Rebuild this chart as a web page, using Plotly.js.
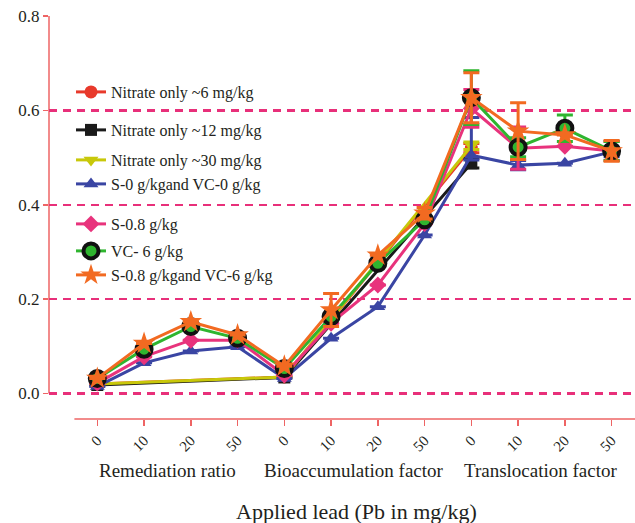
<!DOCTYPE html>
<html>
<head>
<meta charset="utf-8">
<script src="https://cdn.plot.ly/plotly-3.0.1.min.js"></script>
<style>html,body{margin:0;padding:0;background:#fff;}</style>
</head>
<body>
<div id="chart" style="width:635px;height:523px;"></div>
<script>
// Tick labels (applied Pb, mg/kg) for the three indicator groups
const tickLabels = ['0','10','20','50','0','10','20','50','0','10','20','50'];
const groupLabels = ['Remediation ratio','Bioaccumulation factor','Translocation factor'];
const groupCenters = [1.5, 5.5, 9.5];
const xAll = [0,1,2,3,4,5,6,7,8,9,10,11];
const xNitrate = [0,4,8];

// Series values
const nitrate6  = [0.020, 0.035, 0.520];
const nitrate6Err = [0, 0, 0.010];
const nitrate12 = [0.018, 0.034, 0.488];
const nitrate12Err = [0, 0, 0.010];
const nitrate30 = [0.020, 0.035, 0.525];
const nitrate30Err = [0, 0, 0.008];
const s0vc0  = [0.015, 0.065, 0.090, 0.099, 0.032, 0.117, 0.184, 0.336, 0.505, 0.484, 0.488, 0.512];
const s0vc0Err = [0,0,0,0,0,0,0,0,0.080,0.010,0,0.010];
const s0vc0ErrMinus = [0,0,0,0,0,0,0,0,0.010,0.010,0,0.010];
const s08    = [0.022, 0.078, 0.113, 0.113, 0.039, 0.149, 0.230, 0.360, 0.604, 0.520, 0.524, 0.514];
const s08Err = [0,0,0,0,0,0,0,0,0.040,0.045,0,0.020];
const vc6    = [0.032, 0.094, 0.142, 0.117, 0.053, 0.163, 0.276, 0.368, 0.627, 0.522, 0.562, 0.514];
const vc6Err = [0,0,0,0,0,0,0,0,0.057,0.020,0.028,0.020];
const s08vc6 = [0.032, 0.106, 0.152, 0.124, 0.058, 0.177, 0.293, 0.382, 0.627, 0.556, 0.548, 0.514];
const s08vc6Err = [0,0,0,0,0,0.035,0,0.012,0.053,0.060,0,0.022];

const names = ['Nitrate only ~6 mg/kg','Nitrate only ~12 mg/kg','Nitrate only ~30 mg/kg',
  'S-0 g/kgand VC-0 g/kg','S-0.8 g/kg','VC- 6 g/kg','S-0.8 g/kgand VC-6 g/kg'];
const legendY = [92, 130, 160, 184, 224, 251, 275]; // pixel centers of legend rows

const FONT = '"Liberation Serif", "Times New Roman", Times, serif';
const TXT = '#231f20';
const AXC = '#ee6464';
const GRID = '#e8307a';

function tr(x, y, err, errMinus, name, color, symbol, size, mline, idx, mcolor) {
  return {
    x: x, y: y, name: name, type: 'scatter', mode: 'lines+markers',
    line: {color: color, width: 3},
    marker: {symbol: symbol, size: size, color: mcolor || color,
             line: mline || {width: 0}},
    error_y: {type: 'data', array: err, arrayminus: errMinus || err, symmetric: !errMinus,
              visible: true, color: color, thickness: 3, width: 8},
    legend: idx === 0 ? 'legend' : 'legend' + (idx + 1),
    cliponaxis: false
  };
}

const traces = [
  tr(xNitrate, nitrate6, nitrate6Err, null, names[0], '#e8392b', 'circle', 13, null, 0),
  tr(xNitrate, nitrate12, nitrate12Err, null, names[1], '#1a1a1a', 'square', 12, null, 1),
  tr(xNitrate, nitrate30, nitrate30Err, null, names[2], '#c8c80a', 'triangle-down', 13, null, 2),
  tr(xAll, s0vc0, s0vc0Err, s0vc0ErrMinus, names[3], '#3a45a3', 'triangle-up', 13, null, 3),
  tr(xAll, s08, s08Err, null, names[4], '#e8337c', 'diamond', 13, null, 4),
  tr(xAll, vc6, vc6Err, null, names[5], '#2fb52f', 'circle', 15, {color: '#111', width: 4}, 5, '#2fb52f'),
  tr(xAll, s08vc6, s08vc6Err, null, names[6], '#f26a21', 'star', 17, null, 6)
];

const plotTop = 16, plotBottom = 419, plotLeft = 49, plotW = 635 - 49;
const plotH = plotBottom - plotTop;

const layout = {
  width: 635, height: 523,
  margin: {l: plotLeft, r: 0, t: plotTop, b: 523 - plotBottom, pad: 0},
  paper_bgcolor: '#fff', plot_bgcolor: 'rgba(0,0,0,0)',
  font: {family: FONT, color: TXT, size: 16},
  xaxis: {
    range: [-1.033, 11.5], showgrid: false, zeroline: false, showline: false,
    tickmode: 'array', tickvals: xAll, ticktext: tickLabels, tickangle: -45,
    ticks: 'outside', ticklen: 6, tickwidth: 1.5, tickcolor: AXC,
    tickfont: {family: FONT, size: 15, color: TXT}
  },
  yaxis: {
    range: [-0.054, 0.8], showline: false, zeroline: false,
    tickmode: 'array', tickvals: [0, 0.2, 0.4, 0.6, 0.8], ticktext: ['0.0','0.2','0.4','0.6','0.8'],
    showgrid: true, gridcolor: GRID, gridwidth: 2.5, griddash: '8px,6px',
    ticks: 'outside', ticklen: 5, tickwidth: 1.5, tickcolor: AXC,
    tickfont: {family: FONT, size: 17, color: TXT}
  },
  shapes: [
    {type: 'line', xref: 'paper', yref: 'y', x0: 0, x1: 0, y0: 0, y1: 0.8,
     line: {color: AXC, width: 1.5}, layer: 'below'},
    {type: 'line', xref: 'x', yref: 'paper', x0: -0.49, x1: 11.5, y0: 0, y1: 0,
     line: {color: AXC, width: 1.5}, layer: 'below'}
  ],
  annotations: groupLabels.map((t, i) => ({
    text: t, x: groupCenters[i], xref: 'x', y: (plotBottom - 470) / plotH, yref: 'paper',
    xanchor: 'center', yanchor: 'middle', showarrow: false,
    font: {family: FONT, size: 19, color: TXT}
  })).concat([{
    text: 'Applied lead (Pb in mg/kg)', x: (356 - plotLeft) / plotW, xref: 'paper',
    y: (plotBottom - 511) / plotH, yref: 'paper', xanchor: 'center', yanchor: 'middle',
    showarrow: false, font: {family: FONT, size: 22, color: TXT}
  }])
};

legendY.forEach((py, i) => {
  const key = i === 0 ? 'legend' : 'legend' + (i + 1);
  layout[key] = {
    x: (71 - plotLeft) / plotW, xref: 'paper', xanchor: 'left',
    y: (plotBottom - py) / plotH, yref: 'paper', yanchor: 'middle',
    bgcolor: 'rgba(0,0,0,0)', borderwidth: 0,
    font: {family: FONT, size: 16, color: TXT},
    itemwidth: 30, tracegroupgap: 0
  };
});
layout.showlegend = true;

Plotly.newPlot('chart', traces, layout, {displayModeBar: false, staticPlot: true});
</script>
</body>
</html>
